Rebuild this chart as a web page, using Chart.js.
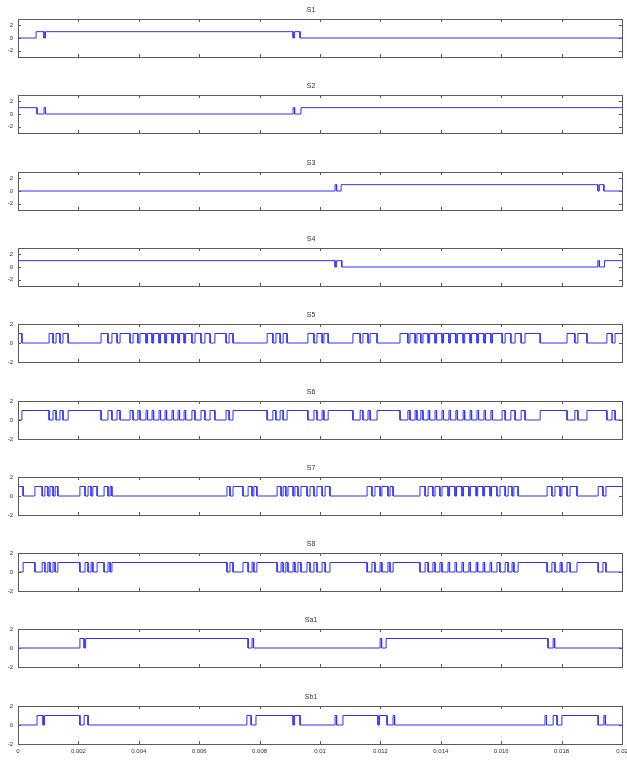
<!DOCTYPE html>
<html>
<head>
<meta charset="utf-8">
<script src="https://cdn.jsdelivr.net/npm/chart.js@4/dist/chart.umd.min.js"></script>
<style>
  body { margin: 0; background: #fff; }
  #wrap { position: relative; width: 627px; height: 760px; overflow: hidden; }
  #wrap canvas { position: absolute; left: 0; }
</style>
</head>
<body>
<div id="wrap"></div>
<script>
// panel names, top to bottom
const panelNames = ['S1', 'S2', 'S3', 'S4', 'S5', 'S6', 'S7', 'S8', 'Sa1', 'Sb1'];

// level each switch signal starts at (t = 0)
const startLevels = [0, 1, 0, 1, 1, 0, 1, 0, 0, 0];

// switching instants (s); the level toggles 0 <-> 1 at each one
const s1Edges = [0.00060, 0.00086, 0.00091, 0.00911, 0.00916, 0.00934];
const s2Edges = [0.00063, 0.00086, 0.00091, 0.00911, 0.00916, 0.00937];
const s3Edges = [0.01050, 0.01055, 0.01070, 0.01920, 0.01925, 0.01940];
const s4Edges = [0.01050, 0.01055, 0.01072, 0.01920, 0.01925, 0.01942];

const s5Edges = [
  0.00013, 0.00103, 0.00116, 0.00126, 0.00139, 0.00149, 0.00166,
  0.00275, 0.00298, 0.00311, 0.00328, 0.00338, 0.00371, 0.00381, 0.00397, 0.00404,
  0.00424, 0.00429, 0.00444, 0.00449, 0.00467, 0.00472, 0.00487, 0.00492,
  0.00510, 0.00515, 0.00530, 0.00535, 0.00550, 0.00555,
  0.00576, 0.00586, 0.00606, 0.00619, 0.00636, 0.00652, 0.00689, 0.00699, 0.00712,
  0.00825, 0.00844, 0.00854, 0.00868, 0.00878, 0.00891,
  0.00960, 0.00980, 0.00990, 0.01007, 0.01013, 0.01027,
  0.01109, 0.01133, 0.01142, 0.01159, 0.01166, 0.01189,
  0.01265, 0.01291, 0.01298, 0.01315, 0.01321, 0.01334, 0.01341,
  0.01358, 0.01363, 0.01381, 0.01386, 0.01404, 0.01409, 0.01427, 0.01432,
  0.01450, 0.01455, 0.01474, 0.01479, 0.01497, 0.01502, 0.01520, 0.01525,
  0.01543, 0.01548, 0.01566, 0.01571,
  0.01603, 0.01613, 0.01632, 0.01646, 0.01666, 0.01679, 0.01729,
  0.01818, 0.01844, 0.01854, 0.01884,
  0.01950, 0.01967, 0.01977
];
// S6 is the complement of S5: same switching instants
const s6Edges = s5Edges;

const s7Edges = [
  0.00017, 0.00056, 0.00080, 0.00089, 0.00099, 0.00106, 0.00116, 0.00123, 0.00132,
  0.00205, 0.00222, 0.00232, 0.00242, 0.00248, 0.00262,
  0.00285, 0.00298, 0.00305, 0.00311,
  0.00692, 0.00702, 0.00712, 0.00745, 0.00762, 0.00775, 0.00781, 0.00791,
  0.00858, 0.00871, 0.00878, 0.00887, 0.00894, 0.00911, 0.00917, 0.00927,
  0.00937, 0.00957, 0.00967, 0.00980, 0.00990, 0.01007, 0.01017, 0.01033,
  0.01156, 0.01172, 0.01182, 0.01199, 0.01205, 0.01225, 0.01232, 0.01242,
  0.01331, 0.01348, 0.01358, 0.01374, 0.01381, 0.01397, 0.01404,
  0.01424, 0.01429, 0.01447, 0.01452, 0.01470, 0.01475, 0.01493, 0.01498,
  0.01517, 0.01522, 0.01540, 0.01545, 0.01563, 0.01568,
  0.01586, 0.01596, 0.01613, 0.01623, 0.01636, 0.01642, 0.01656,
  0.01752, 0.01768, 0.01778, 0.01795, 0.01801, 0.01818, 0.01828, 0.01851,
  0.01921, 0.01937, 0.01947
];
// S8 is the complement of S7
const s8Edges = s7Edges;

const sa1Edges = [0.00205, 0.00219, 0.00224, 0.00762, 0.00775, 0.00780,
  0.01199, 0.01204, 0.01219, 0.01755, 0.01772, 0.01777];
const sb1Edges = [0.00063, 0.00083, 0.00088, 0.00205, 0.00219, 0.00232,
  0.00758, 0.00772, 0.00788, 0.00911, 0.00916, 0.00934,
  0.01050, 0.01055, 0.01076, 0.01192, 0.01197, 0.01222, 0.01242, 0.01247,
  0.01745, 0.01750, 0.01772, 0.01785, 0.01801, 0.01921, 0.01940, 0.01945];

const allEdges = [s1Edges, s2Edges, s3Edges, s4Edges, s5Edges, s6Edges, s7Edges, s8Edges, sa1Edges, sb1Edges];

// axes
const tEnd = 0.02;
const xTickValues = [0, 0.002, 0.004, 0.006, 0.008, 0.01, 0.012, 0.014, 0.016, 0.018, 0.02];
const xTickLabels = ['0', '0.002', '0.004', '0.006', '0.008', '0.01', '0.012', '0.014', '0.016', '0.018', '0.02'];
const yTickValues = [-2, 0, 2];
const yRanges = [3, 3, 3, 3, 2, 2, 2, 2, 2, 2];

const FONT = "'Liberation Sans', Arial, sans-serif";
const LINE = '#2f2fff';
const FRAME = '#5a5a5a';

function stepPoints(start, edges) {
    const pts = [{ x: 0, y: start }];
    let level = start;
    edges.forEach(t => {
        pts.push({ x: t, y: level });
        level = 1 - level;
        pts.push({ x: t, y: level });
    });
    pts.push({ x: tEnd, y: level });
    return pts;
}

// box frame with inward tick marks, MATLAB style
const frameTicks = {
    id: 'frameTicks',
    afterDraw(chart) {
        const { ctx, chartArea: a, scales } = chart;
        ctx.save();
        ctx.strokeStyle = FRAME;
        ctx.lineWidth = 1;
        ctx.strokeRect(Math.round(a.left) + 0.5, Math.round(a.top) + 0.5,
            Math.round(a.right - a.left), Math.round(a.bottom - a.top));
        ctx.beginPath();
        scales.x.ticks.forEach(tk => {
            const px = Math.round(scales.x.getPixelForValue(tk.value)) + 0.5;
            ctx.moveTo(px, a.bottom); ctx.lineTo(px, a.bottom - 3);
            ctx.moveTo(px, a.top); ctx.lineTo(px, a.top + 3);
        });
        scales.y.ticks.forEach(tk => {
            const py = Math.round(scales.y.getPixelForValue(tk.value)) + 0.5;
            ctx.moveTo(a.left, py); ctx.lineTo(a.left + 3, py);
            ctx.moveTo(a.right, py); ctx.lineTo(a.right - 3, py);
        });
        ctx.stroke();
        ctx.restore();
    }
};

const wrap = document.getElementById('wrap');

panelNames.forEach((name, i) => {
    const isLast = i === panelNames.length - 1;
    const top = Math.round(i * 76.3);
    const height = isLast ? 760 - top : 77;

    const canvas = document.createElement('canvas');
    canvas.width = 627;
    canvas.height = height;
    canvas.style.top = top + 'px';
    wrap.appendChild(canvas);

    const r = yRanges[i];

    new Chart(canvas, {
        type: 'line',
        data: {
            datasets: [{
                data: stepPoints(startLevels[i], allEdges[i]),
                borderColor: LINE,
                borderWidth: 1,
                pointRadius: 0,
                tension: 0,
                fill: false
            }]
        },
        options: {
            responsive: false,
            animation: false,
            layout: { padding: { left: 0, right: 5, top: 0, bottom: 0 } },
            plugins: {
                legend: { display: false },
                tooltip: { enabled: false },
                title: {
                    display: true,
                    text: name,
                    color: '#333',
                    font: { family: FONT, size: 7, weight: 'normal' },
                    padding: { top: 6, bottom: 4.6 }
                }
            },
            scales: {
                x: {
                    type: 'linear',
                    min: 0,
                    max: tEnd,
                    afterBuildTicks: s => { s.ticks = xTickValues.map(v => ({ value: v })); },
                    afterFit: s => {
                        s.height = isLast ? 16 : height - 57;
                        s.paddingLeft = 0;
                        s.paddingRight = 0;
                    },
                    grid: { display: false, drawTicks: false },
                    border: { display: false },
                    ticks: {
                        display: isLast,
                        autoSkip: false,
                        maxRotation: 0,
                        padding: 4,
                        color: '#333',
                        font: { family: FONT, size: 6 },
                        callback: (v, idx) => xTickLabels[idx]
                    }
                },
                y: {
                    min: -r,
                    max: r,
                    afterBuildTicks: s => { s.ticks = yTickValues.map(v => ({ value: v })); },
                    afterFit: s => { s.width = 18; },
                    grid: { display: false, drawTicks: false },
                    border: { display: false },
                    ticks: {
                        padding: 5,
                        color: '#333',
                        font: { family: FONT, size: 6 },
                        callback: v => String(v)
                    }
                }
            }
        },
        plugins: [frameTicks]
    });
});
</script>
</body>
</html>
